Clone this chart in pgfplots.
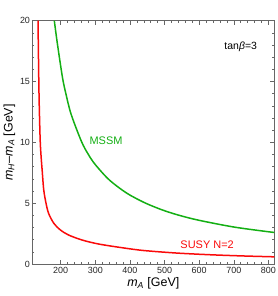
\documentclass[border=0pt]{standalone}
\usepackage{fontspec}
\setmainfont{Liberation Sans}
\usepackage{pgfplots}
\pgfplotsset{compat=1.18}
\definecolor{mgreen}{RGB}{20,175,20}
\definecolor{mred}{RGB}{250,10,10}
\begin{document}
\begin{tikzpicture}
\path[use as bounding box] (-32.3bp,-32bp) rectangle (245.7bp,264bp);
\begin{axis}[
  scale only axis, width=242bp, height=243.3bp,
  xmin=118, xmax=817, ymin=0, ymax=20,
  xtick={200,300,...,800}, ytick={0,5,10,15,20},
  minor x tick num=4, minor y tick num=4,
  tick align=inside, major tick length=4bp, minor tick length=2bp,
  tick pos=both,
  axis line style={black!60, line width=0.6bp},
  every tick/.style={black!60, line width=0.5bp},
  /pgf/number format/assume math mode=true,
  ticklabel style={font=\fontsize{9}{10}\selectfont, text=black!85},
  xticklabel style={yshift=0.5bp},
  yticklabel style={xshift=1.2bp},
  label style={font=\fontsize{12.5}{14}\selectfont},
  xlabel={\textit{m}\textsubscript{\textit{A}} [GeV]},
  ylabel={\textit{m}\textsubscript{\textit{H}}--\textit{m}\textsubscript{\textit{A}} [GeV]},
  xlabel style={at={(axis description cs:0.5,-0.08)}, anchor=center},
  ylabel style={at={(axis description cs:-0.095,0.5)}, anchor=center},
  clip=true,
]
\addplot[mred, line width=1.5bp, smooth, tension=0.5] table {
x y
134.5 20
136.8 15
138.5 12.5
141 10
144 8.6
146.5 7.7
151 6.1
157.6 5.0
165 4.17
180 3.35
199 2.80
223 2.38
262 1.97
310 1.64
377 1.34
439 1.11
535 0.90
632 0.76
728 0.66
817 0.59
};
\addplot[mgreen, line width=1.5bp, smooth, tension=0.5] table {
x y
181.6 20
190 18.2
205 15.36
215 14.0
230 12.32
260 10.07
280 9.0
300 8.17
340 6.92
390 5.84
440 5.07
490 4.48
540 4.02
600 3.59
700 3.04
800 2.65
817 2.60
};
\node[text=mgreen, font=\fontsize{11}{12}\selectfont] at (axis cs:331,10.1) {MSSM};
\node[text=mred, font=\fontsize{11}{12}\selectfont] at (axis cs:623,1.62) {SUSY N=2};
\node[text=black, font=\fontsize{10.5}{12}\selectfont] at (axis cs:720,17.86) {tan\textit{β}=3};
\end{axis}
\end{tikzpicture}
\end{document}
